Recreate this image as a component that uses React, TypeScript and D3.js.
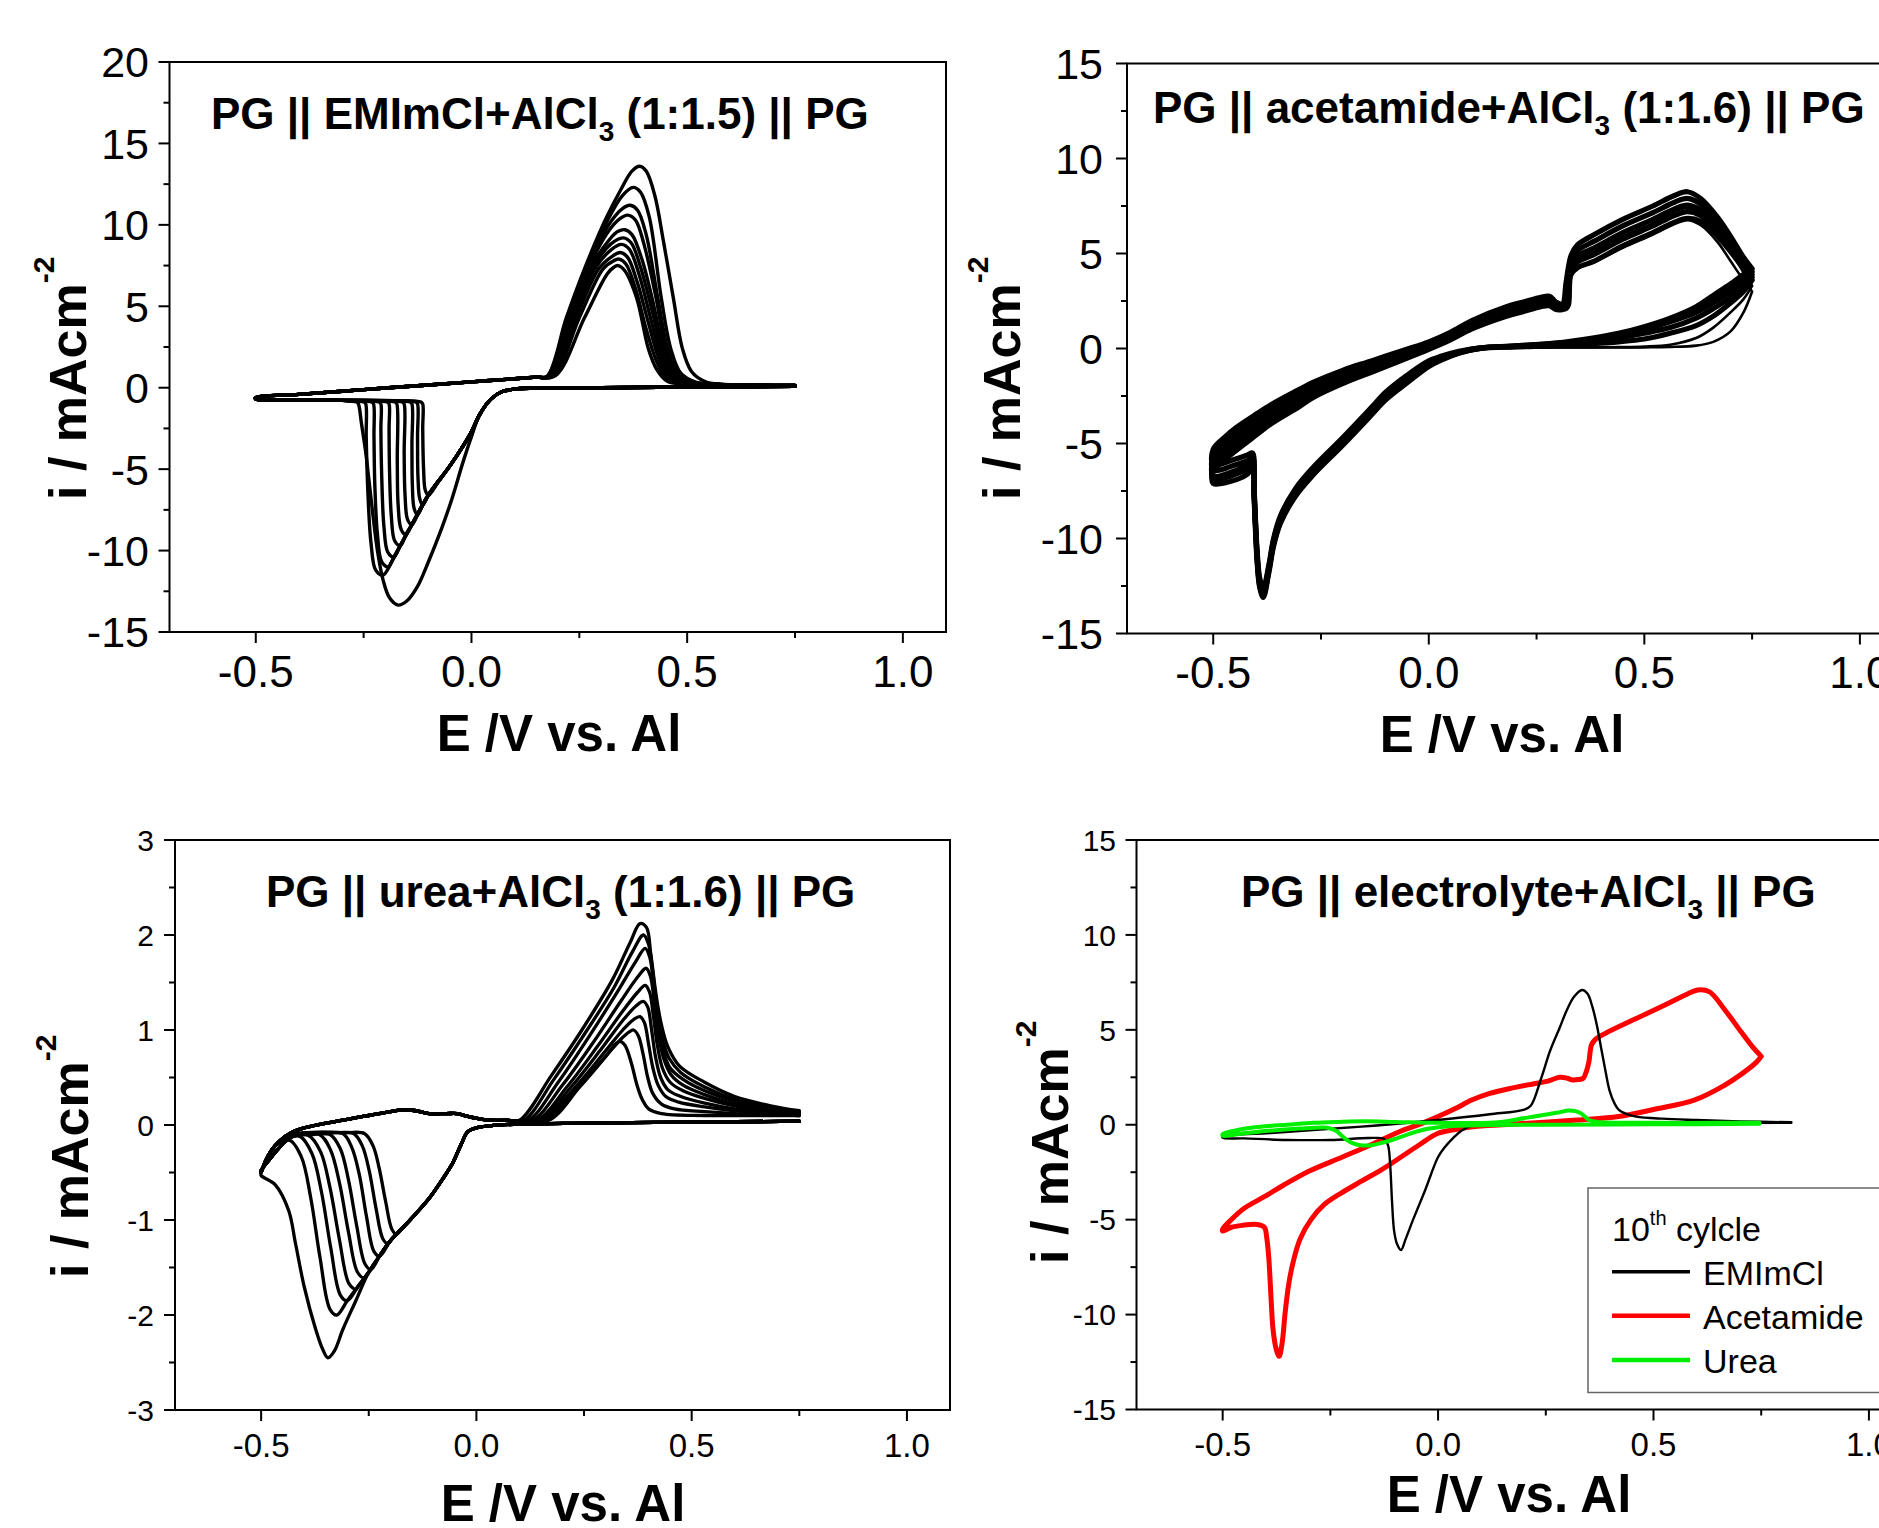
import React from 'react';
import * as d3 from 'd3';

type Pt = [number, number];

const FONT = "'Liberation Sans', Arial, Helvetica, sans-serif";
const X_DOMAIN: [number, number] = [-0.7, 1.1];
const X_TICKS = [-0.5, 0.0, 0.5, 1.0];
const X_MINOR = [-0.25, 0.25, 0.75];
const X_TICK_LABELS = ['-0.5', '0.0', '0.5', '1.0'];

// ---------------- Panel 1 : EMImCl ----------------
const EMIM_CATH_HEAD: Pt[] = [[0.75, 0.08], [0.5, 0.04], [0.3, 0.0], [0.15, -0.03], [0.1, -0.08], [0.07, -0.25], [0.045, -0.7], [0.02, -1.6]];
const EMIM_TROUGHS: Pt[][] = [
  [[0.0, -3.0], [-0.02, -4.6], [-0.045, -6.8], [-0.07, -8.7], [-0.1, -10.7], [-0.125, -12.2], [-0.15, -13.1], [-0.17, -13.35], [-0.19, -12.9], [-0.205, -11.8], [-0.218, -10.0], [-0.232, -7.0], [-0.245, -4.0], [-0.255, -2.2], [-0.262, -1.0], [-0.266, -0.88], [-0.282, -0.82]],
  [[0.0, -2.7], [-0.02, -3.6], [-0.05, -4.8], [-0.1, -6.6], [-0.138, -8.4], [-0.165, -9.7], [-0.185, -10.7], [-0.205, -11.5], [-0.222, -11.2], [-0.233, -9.5], [-0.24, -6.5], [-0.244, -3.0], [-0.245, -1.0], [-0.249, -0.88], [-0.265, -0.82]],
  [[0.0, -2.7], [-0.02, -3.6], [-0.05, -4.8], [-0.1, -6.6], [-0.138, -8.4], [-0.165, -9.7], [-0.18, -10.4], [-0.193, -11.0], [-0.208, -10.7], [-0.218, -9.0], [-0.224, -6.0], [-0.226, -3.0], [-0.227, -1.0], [-0.231, -0.88], [-0.247, -0.82]],
  [[0.0, -2.7], [-0.02, -3.6], [-0.05, -4.8], [-0.1, -6.6], [-0.138, -8.4], [-0.165, -9.7], [-0.18, -10.4], [-0.194, -10.1], [-0.203, -8.5], [-0.208, -5.5], [-0.21, -2.5], [-0.21, -1.0], [-0.214, -0.88], [-0.23, -0.82]],
  [[0.0, -2.7], [-0.02, -3.6], [-0.05, -4.8], [-0.1, -6.6], [-0.138, -8.4], [-0.152, -9.0], [-0.165, -9.7], [-0.178, -9.4], [-0.186, -7.8], [-0.19, -5.0], [-0.191, -2.5], [-0.191, -1.0], [-0.195, -0.88], [-0.211, -0.82]],
  [[0.0, -2.7], [-0.02, -3.6], [-0.05, -4.8], [-0.1, -6.6], [-0.125, -7.8], [-0.138, -8.4], [-0.152, -9.0], [-0.163, -8.7], [-0.17, -7.2], [-0.172, -4.5], [-0.173, -1.0], [-0.177, -0.88], [-0.193, -0.82]],
  [[0.0, -2.7], [-0.02, -3.6], [-0.05, -4.8], [-0.1, -6.6], [-0.125, -7.8], [-0.138, -8.4], [-0.148, -8.1], [-0.154, -6.6], [-0.156, -4.0], [-0.156, -1.0], [-0.16, -0.88], [-0.176, -0.82]],
  [[0.0, -2.7], [-0.02, -3.6], [-0.05, -4.8], [-0.1, -6.6], [-0.113, -7.2], [-0.125, -7.8], [-0.133, -7.4], [-0.137, -6.0], [-0.138, -3.5], [-0.138, -1.0], [-0.142, -0.88], [-0.158, -0.82]],
  [[0.0, -2.7], [-0.02, -3.6], [-0.05, -4.8], [-0.075, -5.7], [-0.1, -6.6], [-0.113, -7.2], [-0.12, -6.8], [-0.124, -5.5], [-0.125, -3.0], [-0.125, -1.0], [-0.129, -0.88], [-0.145, -0.82]],
  [[0.0, -2.7], [-0.02, -3.6], [-0.05, -4.8], [-0.075, -5.7], [-0.1, -6.6], [-0.107, -6.3], [-0.111, -5.0], [-0.113, -2.5], [-0.113, -1.0], [-0.117, -0.88], [-0.133, -0.82]],
];
const EMIM_CATH_TAIL: Pt[] = [[-0.3, -0.78], [-0.4, -0.74], [-0.5, -0.7]];
const EMIM_AN_BASE: Pt[] = [[-0.5, -0.6], [-0.4, -0.41], [-0.3, -0.22], [-0.2, -0.02], [-0.1, 0.17], [0.0, 0.36], [0.1, 0.55], [0.15, 0.65]];
const EMIM_PEAKS: Pt[][] = [
  [[0.175, 0.7], [0.22, 4.3], [0.262, 7.3], [0.312, 10.4], [0.347, 12.2], [0.372, 13.3], [0.39, 13.6], [0.405, 13.3], [0.425, 11.8], [0.445, 9.0], [0.468, 5.5], [0.489, 2.4], [0.51, 1.0], [0.54, 0.4], [0.58, 0.2], [0.66, 0.15], [0.75, 0.14]],
  [[0.176, 0.7], [0.222, 4.3], [0.265, 7.3], [0.316, 10.3], [0.35, 11.8], [0.375, 12.3], [0.392, 12.0], [0.412, 10.5], [0.44, 5.5], [0.462, 2.4], [0.485, 0.9], [0.52, 0.35], [0.57, 0.2], [0.66, 0.15], [0.75, 0.14]],
  [[0.177, 0.7], [0.224, 4.3], [0.268, 7.3], [0.318, 10.0], [0.35, 11.0], [0.368, 11.2], [0.385, 10.9], [0.405, 9.4], [0.432, 5.5], [0.455, 2.4], [0.478, 0.9], [0.515, 0.35], [0.57, 0.2], [0.66, 0.15], [0.75, 0.14]],
  [[0.178, 0.7], [0.226, 4.3], [0.27, 7.3], [0.32, 9.7], [0.345, 10.4], [0.362, 10.6], [0.38, 10.3], [0.4, 8.8], [0.428, 5.5], [0.45, 2.4], [0.472, 0.9], [0.51, 0.35], [0.57, 0.2], [0.66, 0.15], [0.75, 0.14]],
  [[0.18, 0.7], [0.23, 4.3], [0.275, 7.3], [0.32, 9.1], [0.34, 9.6], [0.356, 9.7], [0.372, 9.4], [0.395, 7.9], [0.423, 5.0], [0.445, 2.3], [0.468, 0.85], [0.505, 0.32], [0.57, 0.2], [0.66, 0.15], [0.75, 0.14]],
  [[0.182, 0.7], [0.234, 4.3], [0.28, 7.3], [0.322, 8.8], [0.352, 9.2], [0.37, 8.9], [0.392, 7.4], [0.42, 4.6], [0.442, 2.2], [0.464, 0.8], [0.5, 0.3], [0.57, 0.2], [0.66, 0.15], [0.75, 0.14]],
  [[0.184, 0.7], [0.238, 4.3], [0.286, 7.3], [0.325, 8.5], [0.348, 8.8], [0.366, 8.5], [0.388, 7.0], [0.415, 4.3], [0.438, 2.0], [0.46, 0.75], [0.5, 0.3], [0.57, 0.2], [0.66, 0.15], [0.75, 0.14]],
  [[0.187, 0.7], [0.243, 4.3], [0.295, 7.3], [0.328, 8.1], [0.345, 8.3], [0.362, 8.0], [0.384, 6.5], [0.41, 4.0], [0.433, 1.9], [0.455, 0.7], [0.49, 0.28], [0.57, 0.2], [0.66, 0.15], [0.75, 0.14]],
  [[0.19, 0.7], [0.25, 4.3], [0.305, 7.3], [0.33, 7.8], [0.342, 7.9], [0.358, 7.6], [0.38, 6.1], [0.405, 3.6], [0.428, 1.7], [0.45, 0.65], [0.49, 0.27], [0.57, 0.2], [0.66, 0.15], [0.75, 0.14]],
  [[0.195, 0.75], [0.262, 4.3], [0.315, 7.0], [0.33, 7.4], [0.34, 7.5], [0.355, 7.2], [0.383, 5.5], [0.41, 2.4], [0.43, 1.1], [0.454, 0.4], [0.49, 0.22], [0.57, 0.18], [0.66, 0.15], [0.75, 0.14]],
];

// ---------------- Panel 2 : acetamide ----------------
const ACET_E_CATH = [0.75, 0.73, 0.7, 0.66, 0.62, 0.56, 0.5, 0.44, 0.38, 0.3, 0.2, 0.12, 0.07, 0.03, 0.0, -0.05, -0.1, -0.133, -0.2, -0.27, -0.31, -0.344, -0.36, -0.371, -0.384, -0.392, -0.398, -0.405, -0.409, -0.42, -0.446, -0.5];
const ACET_E_AN = [-0.5, -0.47, -0.446, -0.4, -0.365, -0.3, -0.27, -0.2, -0.133, -0.06, 0.0, 0.05, 0.1, 0.18, 0.22, 0.26, 0.28, 0.295, 0.31, 0.318, 0.324, 0.33, 0.345, 0.384, 0.45, 0.52, 0.57, 0.6, 0.63, 0.67, 0.7, 0.73, 0.75];
const ACET_I_CATH: number[][] = [
  [3.0, 1.9, 0.9, 0.35, 0.15, 0.08, 0.06, 0.05, 0.05, 0.05, 0.04, 0.0, -0.22, -0.55, -0.85, -1.65, -2.55, -3.35, -4.95, -6.55, -7.65, -9.05, -10.25, -11.65, -12.95, -12.45, -11.05, -7.75, -6.0, -6.2, -6.5, -6.8],
  [3.3, 2.6, 1.9, 1.1, 0.55, 0.2, 0.1, 0.07, 0.06, 0.06, 0.05, 0.01, -0.2, -0.5, -0.8, -1.6, -2.5, -3.3, -4.9, -6.5, -7.6, -9.0, -10.2, -11.6, -12.9, -12.4, -11.0, -7.7, -5.9, -6.1, -6.4, -6.7],
  [3.6, 3.0, 2.4, 1.7, 1.2, 0.8, 0.5, 0.35, 0.25, 0.15, 0.08, 0.0, -0.25, -0.6, -0.95, -1.8, -2.7, -3.5, -5.1, -6.7, -7.8, -9.2, -10.4, -11.8, -13.1, -12.6, -11.3, -8.0, -6.3, -6.6, -6.9, -7.1],
  [3.75, 3.3, 2.7, 2.1, 1.6, 1.1, 0.8, 0.55, 0.35, 0.2, 0.1, 0.01, -0.22, -0.55, -0.88, -1.7, -2.6, -3.4, -5.0, -6.6, -7.7, -9.1, -10.3, -11.7, -13.0, -12.5, -11.1, -7.8, -6.1, -6.3, -6.6, -6.9],
  [3.9, 3.5, 3.0, 2.4, 1.9, 1.4, 1.0, 0.7, 0.45, 0.25, 0.12, 0.02, -0.2, -0.5, -0.8, -1.6, -2.5, -3.3, -4.9, -6.5, -7.6, -9.0, -10.2, -11.6, -12.9, -12.4, -11.0, -7.7, -5.9, -6.1, -6.4, -6.7],
  [4.05, 3.7, 3.2, 2.6, 2.1, 1.5, 1.1, 0.75, 0.5, 0.28, 0.13, 0.03, -0.18, -0.45, -0.72, -1.5, -2.4, -3.2, -4.8, -6.4, -7.5, -8.9, -10.1, -11.5, -12.8, -12.3, -10.9, -7.6, -5.7, -5.9, -6.1, -6.4],
  [4.2, 3.9, 3.4, 2.8, 2.2, 1.6, 1.15, 0.8, 0.55, 0.3, 0.14, 0.04, -0.15, -0.4, -0.65, -1.4, -2.3, -3.1, -4.7, -6.3, -7.4, -8.8, -10.0, -11.4, -12.6, -12.1, -10.7, -7.4, -5.5, -5.6, -5.8, -6.1],
];
const ACET_I_AN: number[][] = [
  [-6.3, -5.6, -5.2, -4.4, -3.8, -2.95, -2.5, -1.75, -1.15, -0.5, 0.0, 0.5, 1.1, 1.75, 2.0, 2.25, 2.3, 2.1, 2.1, 2.15, 2.4, 3.8, 4.2, 4.55, 5.3, 6.0, 6.55, 6.75, 6.5, 5.6, 4.6, 3.6, 3.0],
  [-6.0, -5.3, -4.85, -4.1, -3.55, -2.7, -2.3, -1.6, -1.0, -0.4, 0.1, 0.6, 1.2, 1.9, 2.15, 2.4, 2.45, 2.2, 2.15, 2.25, 3.0, 4.3, 4.7, 5.1, 5.9, 6.6, 7.2, 7.4, 7.1, 6.2, 5.2, 4.0, 3.3],
  [-6.5, -5.8, -5.35, -4.55, -3.95, -3.05, -2.6, -1.85, -1.25, -0.6, -0.05, 0.45, 1.03, 1.7, 1.95, 2.2, 2.25, 2.05, 2.05, 2.1, 2.3, 3.9, 4.25, 4.6, 5.4, 6.1, 6.65, 6.85, 6.7, 5.9, 5.1, 4.2, 3.6],
  [-6.2, -5.5, -5.05, -4.28, -3.7, -2.83, -2.4, -1.68, -1.1, -0.48, 0.05, 0.55, 1.14, 1.83, 2.08, 2.33, 2.38, 2.15, 2.13, 2.2, 2.9, 4.15, 4.55, 4.95, 5.75, 6.45, 7.0, 7.2, 7.0, 6.15, 5.3, 4.35, 3.75],
  [-5.9, -5.2, -4.75, -4.0, -3.45, -2.6, -2.2, -1.5, -0.95, -0.35, 0.15, 0.65, 1.25, 1.95, 2.2, 2.45, 2.5, 2.25, 2.2, 2.3, 3.4, 4.4, 4.85, 5.3, 6.1, 6.8, 7.35, 7.55, 7.3, 6.4, 5.5, 4.5, 3.9],
  [-5.6, -4.9, -4.45, -3.72, -3.2, -2.38, -2.0, -1.33, -0.8, -0.23, 0.25, 0.75, 1.36, 2.08, 2.33, 2.58, 2.63, 2.35, 2.28, 2.6, 3.9, 4.65, 5.15, 5.65, 6.45, 7.15, 7.7, 7.9, 7.6, 6.65, 5.7, 4.65, 4.05],
  [-5.3, -4.6, -4.15, -3.45, -2.95, -2.15, -1.8, -1.15, -0.65, -0.1, 0.35, 0.85, 1.47, 2.2, 2.45, 2.7, 2.75, 2.45, 2.35, 3.4, 4.3, 4.9, 5.45, 6.0, 6.8, 7.5, 8.05, 8.25, 7.9, 6.9, 5.9, 4.8, 4.2],
];
// line widths of the acetamide cycles (first two early cycles thin, the rest overlap into a band)
const ACET_WIDTHS = [2.6, 2.6, 5.2, 5.2, 5.2, 5.2, 5.2];

// ---------------- Panel 3 : urea ----------------
const UREA_CATH_HEAD: Pt[] = [[0.75, 0.04], [0.5, 0.03], [0.25, 0.02], [0.1, 0.01], [0.03, -0.01], [0.0, -0.03], [-0.02, -0.07], [-0.035, -0.2], [-0.055, -0.4], [-0.08, -0.58], [-0.111, -0.78], [-0.15, -0.98]];
const UREA_TROUGHS: Pt[][] = [
  [[-0.175, -1.1], [-0.2, -1.22], [-0.225, -1.38], [-0.25, -1.55], [-0.28, -1.85], [-0.31, -2.15], [-0.33, -2.38], [-0.345, -2.45], [-0.358, -2.35], [-0.374, -2.14], [-0.4, -1.7], [-0.42, -1.25], [-0.436, -0.9], [-0.467, -0.63], [-0.5, -0.53]],
  [[-0.175, -1.1], [-0.2, -1.22], [-0.225, -1.38], [-0.25, -1.55], [-0.275, -1.7], [-0.3, -1.85], [-0.324, -2.0], [-0.34, -1.94], [-0.363, -1.4], [-0.385, -0.76], [-0.407, -0.33], [-0.435, -0.16], [-0.46, -0.25], [-0.48, -0.36], [-0.5, -0.48]],
  [[-0.175, -1.1], [-0.2, -1.22], [-0.225, -1.38], [-0.25, -1.55], [-0.275, -1.7], [-0.3, -1.85], [-0.316, -1.79], [-0.338, -1.3], [-0.36, -0.7], [-0.382, -0.3], [-0.41, -0.12], [-0.435, -0.14], [-0.46, -0.25], [-0.48, -0.36], [-0.5, -0.48]],
  [[-0.175, -1.1], [-0.2, -1.22], [-0.225, -1.38], [-0.25, -1.55], [-0.275, -1.7], [-0.28, -1.73], [-0.296, -1.67], [-0.318, -1.21], [-0.34, -0.66], [-0.362, -0.28], [-0.39, -0.11], [-0.43, -0.13], [-0.46, -0.25], [-0.48, -0.36], [-0.5, -0.48]],
  [[-0.175, -1.1], [-0.2, -1.22], [-0.225, -1.38], [-0.25, -1.55], [-0.26, -1.61], [-0.276, -1.55], [-0.297, -1.13], [-0.318, -0.61], [-0.339, -0.26], [-0.365, -0.1], [-0.43, -0.12], [-0.46, -0.25], [-0.48, -0.36], [-0.5, -0.48]],
  [[-0.175, -1.1], [-0.2, -1.22], [-0.225, -1.38], [-0.245, -1.52], [-0.259, -1.46], [-0.278, -1.06], [-0.297, -0.58], [-0.316, -0.25], [-0.34, -0.1], [-0.38, -0.1], [-0.43, -0.12], [-0.46, -0.25], [-0.48, -0.36], [-0.5, -0.48]],
  [[-0.175, -1.1], [-0.2, -1.22], [-0.225, -1.38], [-0.238, -1.33], [-0.255, -0.97], [-0.272, -0.52], [-0.289, -0.24], [-0.31, -0.09], [-0.35, -0.09], [-0.43, -0.11], [-0.46, -0.25], [-0.48, -0.36], [-0.5, -0.48]],
  [[-0.175, -1.1], [-0.2, -1.22], [-0.205, -1.25], [-0.217, -1.2], [-0.233, -0.88], [-0.249, -0.48], [-0.265, -0.22], [-0.285, -0.09], [-0.32, -0.08], [-0.43, -0.11], [-0.46, -0.25], [-0.48, -0.36], [-0.5, -0.48]],
  [[-0.175, -1.1], [-0.185, -1.15], [-0.196, -1.1], [-0.211, -0.8], [-0.226, -0.45], [-0.24, -0.22], [-0.26, -0.09], [-0.3, -0.08], [-0.43, -0.11], [-0.46, -0.25], [-0.48, -0.36], [-0.5, -0.48]],
];
const UREA_AN_BASE: Pt[] = [[-0.5, -0.5], [-0.49, -0.38], [-0.475, -0.26], [-0.455, -0.16], [-0.43, -0.08], [-0.4, -0.03], [-0.36, 0.01], [-0.3, 0.06], [-0.25, 0.1], [-0.2, 0.14], [-0.17, 0.16], [-0.14, 0.15], [-0.11, 0.12], [-0.07, 0.12], [-0.045, 0.12], [-0.02, 0.09], [0.0, 0.07], [0.03, 0.05], [0.07, 0.05]];
const UREA_PEAKS: Pt[][] = [
  [[0.1, 0.05], [0.174, 0.52], [0.245, 1.0], [0.316, 1.53], [0.358, 1.93], [0.38, 2.12], [0.395, 2.08], [0.405, 1.8], [0.418, 1.35], [0.43, 1.05], [0.445, 0.82], [0.472, 0.62], [0.53, 0.45], [0.6, 0.3], [0.686, 0.2], [0.75, 0.15]],
  [[0.11, 0.05], [0.18, 0.48], [0.25, 0.95], [0.32, 1.45], [0.362, 1.82], [0.388, 2.0], [0.4, 1.9], [0.41, 1.6], [0.42, 1.2], [0.432, 0.9], [0.448, 0.7], [0.475, 0.55], [0.53, 0.4], [0.6, 0.27], [0.686, 0.18], [0.75, 0.14]],
  [[0.12, 0.05], [0.19, 0.45], [0.26, 0.92], [0.33, 1.42], [0.37, 1.72], [0.392, 1.86], [0.403, 1.76], [0.412, 1.45], [0.422, 1.05], [0.434, 0.78], [0.45, 0.6], [0.48, 0.48], [0.53, 0.36], [0.6, 0.25], [0.686, 0.17], [0.75, 0.13]],
  [[0.13, 0.05], [0.2, 0.42], [0.27, 0.86], [0.335, 1.3], [0.375, 1.56], [0.394, 1.65], [0.404, 1.57], [0.413, 1.3], [0.423, 0.95], [0.435, 0.7], [0.452, 0.53], [0.48, 0.42], [0.53, 0.32], [0.6, 0.22], [0.686, 0.15], [0.75, 0.12]],
  [[0.14, 0.05], [0.21, 0.4], [0.28, 0.82], [0.34, 1.2], [0.375, 1.4], [0.392, 1.47], [0.402, 1.4], [0.411, 1.15], [0.42, 0.85], [0.432, 0.6], [0.45, 0.45], [0.48, 0.36], [0.53, 0.28], [0.6, 0.2], [0.686, 0.14], [0.75, 0.12]],
  [[0.145, 0.05], [0.22, 0.4], [0.29, 0.8], [0.34, 1.1], [0.37, 1.25], [0.388, 1.3], [0.398, 1.24], [0.407, 1.0], [0.416, 0.72], [0.428, 0.5], [0.445, 0.37], [0.475, 0.3], [0.53, 0.23], [0.6, 0.17], [0.686, 0.13], [0.75, 0.11]],
  [[0.15, 0.05], [0.23, 0.4], [0.3, 0.78], [0.34, 1.0], [0.365, 1.11], [0.38, 1.14], [0.39, 1.08], [0.4, 0.85], [0.41, 0.6], [0.422, 0.42], [0.44, 0.3], [0.47, 0.24], [0.53, 0.19], [0.6, 0.15], [0.686, 0.12], [0.75, 0.1]],
  [[0.158, 0.05], [0.24, 0.42], [0.3, 0.72], [0.335, 0.9], [0.355, 0.98], [0.365, 1.0], [0.376, 0.94], [0.387, 0.75], [0.398, 0.5], [0.41, 0.33], [0.43, 0.22], [0.46, 0.17], [0.53, 0.14], [0.6, 0.12], [0.686, 0.11], [0.75, 0.1]],
  [[0.166, 0.045], [0.24, 0.4], [0.3, 0.72], [0.323, 0.85], [0.333, 0.88], [0.345, 0.84], [0.36, 0.65], [0.373, 0.42], [0.385, 0.27], [0.4, 0.17], [0.43, 0.12], [0.53, 0.1], [0.65, 0.1], [0.75, 0.1]],
];

// ---------------- Panel 4 : 10th cycle comparison ----------------
const CMP_EMIM: Pt[] = [[0.82, 0.1], [0.6, 0.08], [0.3, 0.03], [0.12, 0.0], [0.078, -0.05], [0.055, -0.3], [0.037, -0.65], [0.015, -1.2], [0.0, -1.7], [-0.031, -3.5], [-0.058, -5.0], [-0.075, -6.0], [-0.086, -6.6], [-0.095, -6.3], [-0.102, -5.6], [-0.107, -4.0], [-0.111, -2.2], [-0.116, -1.1], [-0.125, -0.75], [-0.16, -0.7], [-0.25, -0.8], [-0.35, -0.8], [-0.45, -0.72], [-0.5, -0.68],
  [-0.5, -0.6], [-0.4, -0.45], [-0.29, -0.28], [-0.15, -0.05], [0.0, 0.25], [0.12, 0.55], [0.2, 0.8], [0.215, 1.0], [0.24, 2.5], [0.26, 3.9], [0.282, 5.1], [0.3, 6.1], [0.316, 6.75], [0.334, 7.1], [0.347, 6.9], [0.357, 6.3], [0.368, 5.3], [0.378, 4.1], [0.388, 2.9], [0.398, 1.8], [0.41, 1.1], [0.419, 0.8], [0.44, 0.55], [0.46, 0.43], [0.52, 0.32], [0.6, 0.25], [0.7, 0.18], [0.82, 0.13]];
const CMP_ACET: Pt[] = [[0.75, 3.6], [0.739, 3.3], [0.7, 2.6], [0.664, 2.07], [0.596, 1.31], [0.5, 0.8], [0.419, 0.43], [0.323, 0.25], [0.187, 0.05], [0.091, -0.08], [0.04, -0.25], [0.0, -0.45], [-0.04, -1.0], [-0.086, -1.7], [-0.13, -2.35], [-0.18, -3.0], [-0.225, -3.6], [-0.264, -4.2], [-0.295, -5.0], [-0.32, -6.0], [-0.335, -7.1], [-0.346, -8.3], [-0.355, -9.9], [-0.362, -11.5], [-0.369, -12.2], [-0.376, -11.8], [-0.383, -10.8], [-0.388, -9.0], [-0.393, -7.0], [-0.398, -5.9], [-0.403, -5.4], [-0.42, -5.25], [-0.455, -5.3], [-0.48, -5.4], [-0.5, -5.6],
  [-0.5, -5.5], [-0.48, -5.0], [-0.45, -4.4], [-0.4, -3.75], [-0.36, -3.2], [-0.3, -2.45], [-0.222, -1.7], [-0.15, -1.0], [-0.086, -0.33], [-0.04, 0.05], [0.0, 0.43], [0.04, 0.85], [0.078, 1.3], [0.12, 1.65], [0.173, 1.94], [0.22, 2.15], [0.255, 2.3], [0.282, 2.5], [0.3, 2.45], [0.31, 2.37], [0.325, 2.38], [0.337, 2.45], [0.344, 2.8], [0.35, 3.3], [0.356, 4.2], [0.365, 4.5], [0.39, 4.84], [0.46, 5.6], [0.53, 6.35], [0.58, 6.9], [0.603, 7.1], [0.63, 7.0], [0.664, 6.1], [0.705, 4.84], [0.73, 4.1], [0.746, 3.7], [0.75, 3.6]];
const CMP_UREA: Pt[] = [[0.746, 0.05], [0.5, 0.02], [0.255, 0.0], [0.1, -0.02], [0.023, -0.08], [-0.02, -0.2], [-0.045, -0.33], [-0.075, -0.55], [-0.1, -0.75], [-0.13, -0.95], [-0.155, -1.08], [-0.18, -1.08], [-0.2, -0.95], [-0.21, -0.83], [-0.225, -0.55], [-0.236, -0.33], [-0.25, -0.2], [-0.264, -0.15], [-0.32, -0.2], [-0.4, -0.33], [-0.45, -0.45], [-0.5, -0.58],
  [-0.5, -0.5], [-0.47, -0.3], [-0.43, -0.15], [-0.4, -0.08], [-0.35, 0.0], [-0.29, 0.1], [-0.23, 0.15], [-0.168, 0.18], [-0.1, 0.15], [0.0, 0.1], [0.12, 0.1], [0.16, 0.18], [0.187, 0.3], [0.22, 0.42], [0.255, 0.55], [0.28, 0.65], [0.303, 0.75], [0.318, 0.72], [0.33, 0.62], [0.34, 0.45], [0.35, 0.25], [0.37, 0.15], [0.39, 0.12], [0.5, 0.1], [0.65, 0.1], [0.746, 0.1]];

const LEGEND_ITEMS = ['EMImCl', 'Acetamide', 'Urea'];
const LEGEND_COLORS = ['#000000', '#ff0000', '#00ee00'];

interface Series { pts: Pt[]; color: string; width: number }

interface PanelCfg {
  left: number; right: number; top: number; bottom: number;
  yDomain: [number, number]; yTicks: number[]; yMinor: number[];
  yFont: number; yLabelX: number; xFont: number; xLabelY: number;
  title: [string, string, string]; titleX: number; titleY: number;
  xTitleX: number; xTitleY: number; yTitleX: number; yTitleY: number;
}

function Panel({ cfg, series }: { cfg: PanelCfg; series: Series[] }) {
  const x = d3.scaleLinear().domain(X_DOMAIN).range([cfg.left, cfg.right]);
  const y = d3.scaleLinear().domain(cfg.yDomain).range([cfg.bottom, cfg.top]);
  const line = d3.line<Pt>().x(d => x(d[0])).y(d => y(d[1])).curve(d3.curveCatmullRom.alpha(0.5));
  const major = 11, minor = 6;
  return (
    <g>
      {series.map((s, i) => (
        <path key={i} d={line(s.pts) || ''} fill="none" stroke={s.color} strokeWidth={s.width} strokeLinejoin="round" strokeLinecap="round" />
      ))}
      <rect x={cfg.left} y={cfg.top} width={cfg.right - cfg.left} height={cfg.bottom - cfg.top} fill="none" stroke="#000" strokeWidth={2} />
      {cfg.yTicks.map(v => (
        <g key={'y' + v}>
          <line x1={cfg.left - major} x2={cfg.left} y1={y(v)} y2={y(v)} stroke="#000" strokeWidth={2} />
          <text x={cfg.yLabelX} y={y(v) + cfg.yFont * 0.358} textAnchor="end" fontSize={cfg.yFont} fontFamily={FONT}>{String(v)}</text>
        </g>
      ))}
      {cfg.yMinor.map(v => (
        <line key={'ym' + v} x1={cfg.left - minor} x2={cfg.left} y1={y(v)} y2={y(v)} stroke="#000" strokeWidth={2} />
      ))}
      {X_TICKS.map((v, i) => (
        <g key={'x' + v}>
          <line x1={x(v)} x2={x(v)} y1={cfg.bottom} y2={cfg.bottom + major} stroke="#000" strokeWidth={2} />
          <text x={x(v)} y={cfg.xLabelY} textAnchor="middle" fontSize={cfg.xFont} fontFamily={FONT}>{X_TICK_LABELS[i]}</text>
        </g>
      ))}
      {X_MINOR.map(v => (
        <line key={'xm' + v} x1={x(v)} x2={x(v)} y1={cfg.bottom} y2={cfg.bottom + minor} stroke="#000" strokeWidth={2} />
      ))}
      <text x={cfg.titleX} y={cfg.titleY} fontSize={44} fontWeight="bold" fontFamily={FONT} style={{ whiteSpace: 'pre' }}>
        {cfg.title[0]}
        <tspan fontSize={28} dy={12}>{cfg.title[1]}</tspan>
        <tspan fontSize={44} dy={-12}>{cfg.title[2]}</tspan>
      </text>
      <text x={cfg.xTitleX} y={cfg.xTitleY} textAnchor="middle" fontSize={51} fontWeight="bold" fontFamily={FONT}>E /V vs. Al</text>
      <text transform={`translate(${cfg.yTitleX},${cfg.yTitleY}) rotate(-90)`} fontSize={52} fontWeight="bold" fontFamily={FONT} style={{ whiteSpace: 'pre' }}>
        {'i / mAcm'}
        <tspan fontSize={30} dy={-32}>-2</tspan>
      </text>
    </g>
  );
}

const range = (a: number, b: number, s: number) => d3.range(a, b + s / 2, s);

export default function App() {
  const p1: PanelCfg = {
    left: 169.5, right: 946, top: 62, bottom: 632, yDomain: [-15, 20],
    yTicks: range(-15, 20, 5), yMinor: range(-12.5, 17.5, 5),
    yFont: 43, yLabelX: 149, xFont: 44, xLabelY: 687,
    title: ['PG || EMImCl+AlCl', '3', ' (1:1.5) || PG'], titleX: 211, titleY: 129,
    xTitleX: 559, xTitleY: 751, yTitleX: 86, yTitleY: 500,
  };
  const p2: PanelCfg = {
    left: 1127, right: 1903, top: 63.5, bottom: 633.5, yDomain: [-15, 15],
    yTicks: range(-15, 15, 5), yMinor: range(-12.5, 12.5, 5),
    yFont: 43, yLabelX: 1103, xFont: 44, xLabelY: 688,
    title: ['PG || acetamide+AlCl', '3', ' (1:1.6) || PG'], titleX: 1153, titleY: 123,
    xTitleX: 1502, xTitleY: 752, yTitleX: 1020, yTitleY: 500,
  };
  const p3: PanelCfg = {
    left: 175, right: 950, top: 840, bottom: 1410, yDomain: [-3, 3],
    yTicks: range(-3, 3, 1), yMinor: range(-2.5, 2.5, 1),
    yFont: 30, yLabelX: 154, xFont: 33, xLabelY: 1457,
    title: ['PG || urea+AlCl', '3', ' (1:1.6) || PG'], titleX: 266, titleY: 907,
    xTitleX: 563, xTitleY: 1521, yTitleX: 88, yTitleY: 1278,
  };
  const p4: PanelCfg = {
    left: 1136.5, right: 1912, top: 840, bottom: 1409.5, yDomain: [-15, 15],
    yTicks: range(-15, 15, 5), yMinor: range(-12.5, 12.5, 5),
    yFont: 30, yLabelX: 1116, xFont: 33, xLabelY: 1456,
    title: ['PG || electrolyte+AlCl', '3', ' || PG'], titleX: 1241, titleY: 907,
    xTitleX: 1509, xTitleY: 1512, yTitleX: 1068, yTitleY: 1264,
  };

  const s1: Series[] = EMIM_TROUGHS.map((tr, k) => ({
    pts: [...EMIM_CATH_HEAD, ...tr, ...EMIM_CATH_TAIL, ...EMIM_AN_BASE, ...EMIM_PEAKS[k]],
    color: '#000', width: 3.4,
  }));
  const s2: Series[] = ACET_I_CATH.map((cath, k) => ({
    pts: [
      ...ACET_E_CATH.map((e, j) => [e, cath[j]] as Pt),
      ...ACET_E_AN.map((e, j) => [e, ACET_I_AN[k][j]] as Pt),
    ],
    color: '#000', width: ACET_WIDTHS[k],
  }));
  const s3: Series[] = UREA_TROUGHS.map((tr, k) => ({
    pts: [...UREA_CATH_HEAD, ...tr, ...UREA_AN_BASE, ...UREA_PEAKS[k]],
    color: '#000', width: 3.3,
  }));
  const s4: Series[] = [
    { pts: CMP_ACET, color: '#ff0000', width: 5 },
    { pts: CMP_EMIM, color: '#000000', width: 2.4 },
    { pts: CMP_UREA, color: '#00ee00', width: 4 },
  ];

  const legX = 1588, legY = 1188;
  const legRows = [1271.7, 1315.7, 1360];
  const legWidths = [3.5, 4.5, 4.5];

  return (
    <div style={{ position: 'absolute', left: 0, top: 0 }}>
      <svg width={1879} height={1528} style={{ display: 'block', background: '#fff' }}>
        <rect x={0} y={0} width={1879} height={1528} fill="#fff" />
        <Panel cfg={p1} series={s1} />
        <Panel cfg={p2} series={s2} />
        <Panel cfg={p3} series={s3} />
        <Panel cfg={p4} series={s4} />
        <g>
          <rect x={legX} y={legY} width={400} height={204.5} fill="#fff" stroke="#666" strokeWidth={1.5} />
          <text x={1612} y={1241} fontSize={34} fontFamily={FONT} style={{ whiteSpace: 'pre' }}>
            10<tspan fontSize={20} dy={-16}>th</tspan><tspan fontSize={34} dy={16}>{' cylcle'}</tspan>
          </text>
          {LEGEND_ITEMS.map((name, i) => (
            <g key={name}>
              <line x1={1612} x2={1690} y1={legRows[i]} y2={legRows[i]} stroke={LEGEND_COLORS[i]} strokeWidth={legWidths[i]} />
              <text x={1703} y={legRows[i] + 13} fontSize={34} fontFamily={FONT}>{name}</text>
            </g>
          ))}
        </g>
      </svg>
    </div>
  );
}
